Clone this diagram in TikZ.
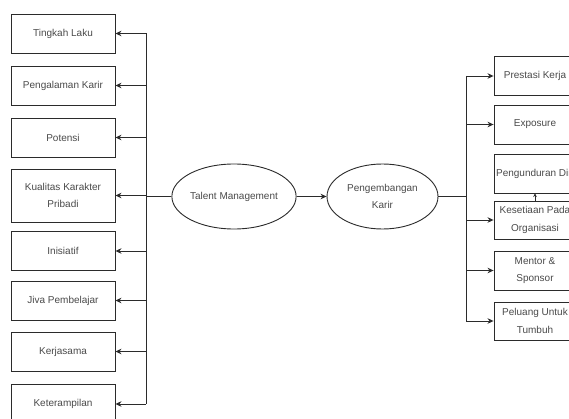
\documentclass[tikz,border=0pt]{standalone}
\usepackage{fontspec}
\setmainfont{Liberation Sans}
\usetikzlibrary{shapes.geometric,arrows.meta}
\definecolor{linec}{HTML}{2B2B2B}
\definecolor{textc}{HTML}{4A4A4A}
\begin{document}
\begin{tikzpicture}[x=1pt,y=-1pt,
  lbl/.style={font=\fontsize{10}{17.5}\selectfont, text=textc, align=center},
  box/.style={lbl, draw=linec, line width=0.9pt, minimum width=104pt,
    minimum height=39pt, inner sep=1pt},
  rbox/.style={box, minimum width=82pt},
  oval/.style={lbl, ellipse, draw=linec, line width=0.9pt, minimum width=111pt,
    minimum height=65pt, inner sep=0pt},
  conn/.style={draw=linec, line width=0.9pt},
  arr/.style={conn, -{Stealth[length=6pt,width=5.5pt]}},
  tinyarr/.style={conn, -{Stealth[length=3.5pt,width=3.5pt]}}
]
\useasboundingbox (0,0) rectangle (569,419);
\clip (0,0) rectangle (569,419);
\fill[white] (0,0) rectangle (569,419);

% competency boxes on the left
\node[box] (t1) at (63,33.5)  {Tingkah Laku};
\node[box] (t2) at (63,85.5)  {Pengalaman Karir};
\node[box] (t3) at (63,137.5) {Potensi};
\node[box, minimum height=53pt] (t4) at (63,195.5) {Kualitas Karakter\\Pribadi};
\node[box] (t5) at (63,251)   {Inisiatif};
\node[box] (t6) at (63,300.5) {Jiva Pembelajar};
\node[box] (t7) at (63,351.5) {Kerjasama};
\node[box] (t8) at (63,404)   {Keterampilan};

% central ellipses
\node[oval] (tm) at (234,196.5)   {Talent Management};
\node[oval] (pk) at (382.5,196.5) {Pengembangan\\Karir};

% outcome boxes on the right
\node[rbox] (r1) at (535,76)    {Prestasi Kerja};
\node[rbox] (r2) at (535,124.5) {Exposure};
\node[rbox] (r3) at (535,173.5) {Pengunduran Diri};
\node[rbox, minimum height=38pt] (r4) at (535,220) {Kesetiaan Pada\\Organisasi};
\node[rbox] (r5) at (535,270.5) {Mentor \&\\Sponsor};
\node[rbox, minimum height=38pt] (r6) at (535,321) {Peluang Untuk\\Tumbuh};

% left distribution bus
\coordinate (lbus) at (146,196.5);
\draw[conn] (tm.west) -- (lbus);
\draw[conn] (lbus |- t1.east) -- (lbus |- t8.east);
\foreach \n in {t1,t2,t3,t4,t5,t6,t7,t8}
  \draw[arr] (lbus |- \n.east) -- (\n.east);

% talent management to career development
\draw[arr] (tm.east) -- (pk.west);

% right distribution bus
\coordinate (rbus) at (466,196.5);
\draw[conn] (pk.east) -- (rbus);
\draw[conn] (rbus |- r1.west) -- (rbus |- r6.west);
\foreach \n in {r1,r2,r4,r5,r6}
  \draw[arr] (rbus |- \n.west) -- (\n.west);

% loyalty linked to resignation
\draw[tinyarr] (r4.north) -- (r3.south);
\end{tikzpicture}
\end{document}
